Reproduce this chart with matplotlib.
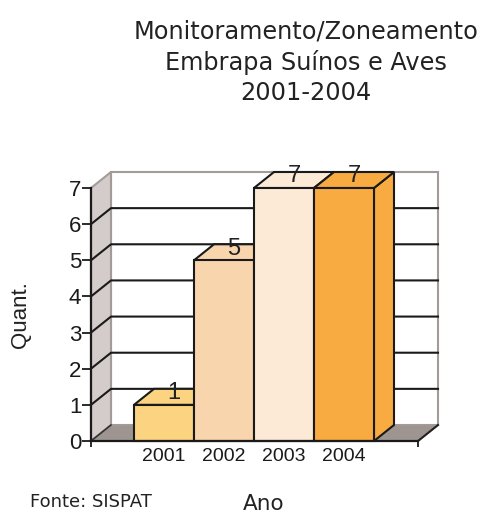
import matplotlib
matplotlib.use("Agg")
import matplotlib.pyplot as plt
from matplotlib.patches import Polygon, Rectangle
from matplotlib.lines import Line2D
from matplotlib.ticker import FixedLocator

categories = ["2001", "2002", "2003", "2004"]
values = [1, 5, 7, 7]
bar_colors = ["#FCD381", "#F9D5AE", "#FCEAD6", "#F8AB41"]
yticks = [0, 1, 2, 3, 4, 5, 6, 7]
title = "Monitoramento/Zoneamento\nEmbrapa Suínos e Aves\n2001-2004"

plt.rcParams['font.family'] = ['DejaVu Sans']
NUMFONT = ['Liberation Sans', 'DejaVu Sans']

W, H = 485, 515
fig = plt.figure(figsize=(W / 100, H / 100), dpi=100)

# axes frame (front plane) in pixels
px0, px1 = 91, 418
py0, py1 = 441, 188
ax = fig.add_axes([px0 / W, 1 - py0 / H, (px1 - px0) / W, (py0 - py1) / H])
ax.set_facecolor("none")

unit_px = 60.0  # pixels per category
xmin = -0.5 - (134 - px0) / unit_px
xmax = xmin + (px1 - px0) / unit_px
ymax = 7
ax.set_xlim(xmin, xmax)
ax.set_ylim(0, ymax)
ypx = (py0 - py1) / ymax
dx = 20 / unit_px
dy = 16 / ypx

wall_edge = "#A39B97"
left_wall = "#D4CCCA"
floor_col = "#9E9590"

# back wall
ax.add_patch(Polygon([(xmin + dx, dy), (xmax + dx, dy), (xmax + dx, ymax + dy), (xmin + dx, ymax + dy)],
                     closed=True, facecolor="white", edgecolor=wall_edge, lw=1.5, clip_on=False, zorder=1))
# left wall
ax.add_patch(Polygon([(xmin, 0), (xmin + dx, dy), (xmin + dx, ymax + dy), (xmin, ymax)],
                     closed=True, facecolor=left_wall, edgecolor=wall_edge, lw=1.5, clip_on=False, zorder=1))
# floor
ax.add_patch(Polygon([(xmin, 0), (xmax, 0), (xmax + dx, dy), (xmin + dx, dy)],
                     closed=True, facecolor=floor_col, edgecolor=wall_edge, lw=1.2, clip_on=False, zorder=1))
# floor side edges
ax.add_line(Line2D([xmax, xmax + dx], [0, dy], color="#222222", lw=1.5, clip_on=False, zorder=2))
ax.add_line(Line2D([xmin, xmin + dx], [0, dy], color="#333333", lw=1.2, clip_on=False, zorder=2))

# gridlines
for v in yticks[1:-1]:
    ax.add_line(Line2D([xmin, xmin + dx, xmax + dx], [v, v + dy, v + dy],
                       color="#1a1a1a", lw=1.5, clip_on=False, zorder=2))

# bars
for i, (v, c) in enumerate(zip(values, bar_colors)):
    l, r = i - 0.5, i + 0.5
    ax.add_patch(Polygon([(r, 0), (r + dx, dy), (r + dx, v + dy), (r, v)], closed=True,
                         facecolor=c, edgecolor="#1a1a1a", lw=1.5, clip_on=False, zorder=3 + i))
    ax.add_patch(Polygon([(l, v), (r, v), (r + dx, v + dy), (l + dx, v + dy)], closed=True,
                         facecolor=c, edgecolor="#1a1a1a", lw=1.5, clip_on=False, zorder=3 + i))
    ax.add_patch(Rectangle((l, 0), r - l, v, facecolor=c, edgecolor="#1a1a1a", lw=1.5,
                           clip_on=False, zorder=3 + i))
    ax.text(i + dx / 2, v + dy * 0.35, str(v), ha="center", va="baseline",
            fontsize=17, family=NUMFONT, color="#222222", zorder=20)

# axes styling
for s in ["top", "right"]:
    ax.spines[s].set_visible(False)
for s in ["left", "bottom"]:
    ax.spines[s].set_linewidth(1.6)
    ax.spines[s].set_color("#1a1a1a")
    ax.spines[s].set_zorder(15)

ax.set_yticks(yticks)
ax.set_yticklabels([str(t) for t in yticks], family=NUMFONT)
ax.tick_params(axis="y", direction="out", length=6.5, width=1.3, pad=0.5,
               labelsize=16, colors="#1a1a1a")
ax.set_xticks(range(len(categories)))
ax.set_xticklabels(categories, family=NUMFONT)
ax.tick_params(axis="x", which="major", length=0, pad=5, labelsize=14, colors="#1a1a1a")
ax.xaxis.set_minor_locator(FixedLocator([xmin, xmax]))
ax.tick_params(axis="x", which="minor", direction="out", length=4.5, width=1.3, colors="#1a1a1a")

fig.text(306 / W, 1 - 62 / H, title, ha="center", va="center", fontsize=17.3,
         linespacing=1.33, color="#222222")
fig.text(21 / W, 1 - 315 / H, "Quant.", rotation=90, ha="center", va="center",
         fontsize=16, family=NUMFONT, color="#222222")
fig.text(264 / W, 1 - 504 / H, "Ano", ha="center", va="center", fontsize=15.5, color="#222222")
fig.text(30 / W, 1 - 502 / H, "Fonte: SISPAT", ha="left", va="center", fontsize=13, color="#222222")

fig.savefig("out.png", dpi=100)
